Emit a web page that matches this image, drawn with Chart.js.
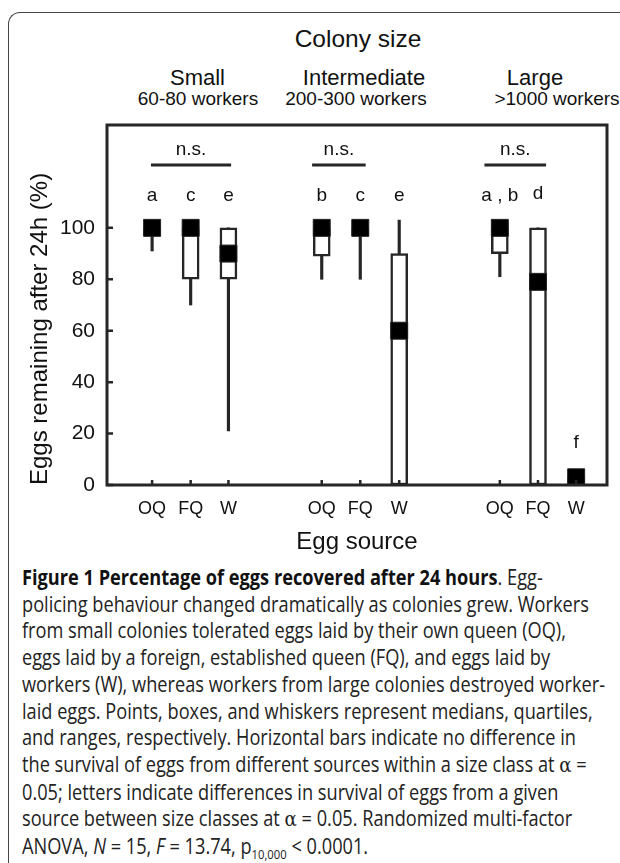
<!DOCTYPE html>
<html>
<head>
<meta charset="utf-8">
<script src="https://cdn.jsdelivr.net/npm/chart.js@4.4.1/dist/chart.umd.min.js"></script>
<style>
  html, body { margin: 0; padding: 0; background: #fff; }
  body { width: 620px; height: 863px; position: relative; overflow: hidden; font-family: "Liberation Sans", Arial, sans-serif; color: #111; }
  #frame { position: absolute; left: 8px; top: 12px; width: 640px; height: 900px; border-left: 1.3px solid #444; border-top: 1.3px solid #444; border-top-left-radius: 12px; }
  #wrap { position: absolute; left: 0; top: 0; width: 620px; height: 560px; }
  .hd { position: absolute; white-space: nowrap; line-height: 1; transform: translateX(-50%); }
  #caption { position: absolute; left: 22px; top: 564px; font-family: "Open Sans", sans-serif; font-size: 21px; line-height: 26.7px; white-space: nowrap; color: #222; transform-origin: 0 0; }
  #caption b { font-weight: 700; color: #111; }
  .al { font-family: "DejaVu Serif", serif; }
</style>
</head>
<body>
<div id="frame"></div>
<div id="heads"></div>
<div id="wrap"><canvas id="boxChart" width="620" height="560"></canvas></div>
<div id="caption">
<b>Figure 1 Percentage of eggs recovered after 24 hours</b>. Egg-<br>
policing behaviour changed dramatically as colonies grew. Workers<br>
from small colonies tolerated eggs laid by their own queen (OQ),<br>
eggs laid by a foreign, established queen (FQ), and eggs laid by<br>
workers (W), whereas workers from large colonies destroyed worker-<br>
laid eggs. Points, boxes, and whiskers represent medians, quartiles,<br>
and ranges, respectively. Horizontal bars indicate no difference in<br>
the survival of eggs from different sources within a size class at <span class="al">α</span> =<br>
0.05; letters indicate differences in survival of eggs from a given<br>
source between size classes at <span class="al">α</span> = 0.05. Randomized multi-factor<br>
ANOVA, <i>N</i> = 15, <i>F</i> = 13.74, p<sub style="font-size:13px">10,000</sub> &lt; 0.0001.
</div>
<script>
// colony size classes and egg sources
const groups = ['Small', 'Intermediate', 'Large'];
const groupSizes = ['60-80 workers', '200-300 workers', '>1000 workers'];
const sources = ['OQ', 'FQ', 'W', 'OQ', 'FQ', 'W', 'OQ', 'FQ', 'W'];
const xPos = [1.17, 2.17, 3.15, 5.57, 6.57, 7.58, 10.19, 11.18, 12.17];

// box plot values (% eggs remaining after 24h)
const mins    = [91, 70, 21, 80, 80, 0, 81, 0, 0];
const q1s     = [97, 80, 80, 89, 97, 0, 90, 0, 0];
const medians = [100, 100, 90, 100, 100, 60, 100, 79, 3];
const q3s     = [100, 100, 100, 100, 100, 90, 100, 100, 3];
const maxs    = [100, 100, 100, 100, 100, 103, 100, 100, 3];

// significance letters and "n.s." bars
const letters = ['a', 'c', 'e', 'b', 'c', 'e', 'a , b', 'd', 'f'];
const letterY = [112.4, 112.4, 112.4, 112.4, 112.4, 112.4, 112.4, 113.2, 16.3];
const nsBars = [[1.14, 3.22], [5.32, 6.71], [9.79, 11.39]];
const nsLineY = 124.4;
const nsTextY = 130.3;
const yTicks = [0, 20, 40, 60, 80, 100];

// header text (pixel layout of the figure heading)
const heads = document.getElementById('heads');
function addHead(text, cx, top, size) {
    const d = document.createElement('div');
    d.className = 'hd';
    d.textContent = text;
    d.style.left = cx + 'px';
    d.style.top = top + 'px';
    d.style.fontSize = size + 'px';
    heads.appendChild(d);
}
addHead('Colony size', 358, 26.5, 24.5);
const headX = [197.5, 364, 535];
const sizeX = [198, 356, 557];
groups.forEach((g, i) => addHead(g, headX[i], 66.5, 22));
groupSizes.forEach((g, i) => addHead(g, sizeX[i], 89, 19));

// squeeze the caption to the width of the original typesetting
const cap = document.getElementById('caption');
const capW = cap.getBoundingClientRect().width;
cap.style.transform = 'scaleX(' + (583 / capW) + ')';

const ink = '#262626';

const annotations = {
    id: 'annotations',
    afterDatasetsDraw(chart) {
        const {ctx, chartArea: a, scales: {x, y}} = chart;
        ctx.save();
        // inward tick marks
        ctx.strokeStyle = ink;
        ctx.lineWidth = 2.5;
        ctx.beginPath();
        yTicks.forEach(v => {
            const py = y.getPixelForValue(v);
            ctx.moveTo(a.left, py);
            ctx.lineTo(a.left + 6, py);
        });
        xPos.forEach(v => {
            const px = x.getPixelForValue(v);
            ctx.moveTo(px, a.bottom);
            ctx.lineTo(px, a.bottom - 5);
        });
        ctx.stroke();
        // plot frame
        ctx.lineWidth = 3;
        ctx.strokeRect(a.left, a.top, a.right - a.left, a.bottom - a.top);
        // letters
        ctx.fillStyle = '#111';
        ctx.textAlign = 'center';
        ctx.textBaseline = 'middle';
        ctx.font = '19px "Liberation Sans", Arial, sans-serif';
        letters.forEach((t, i) => {
            ctx.fillText(t, x.getPixelForValue(xPos[i]), y.getPixelForValue(letterY[i]));
        });
        nsBars.forEach(b => {
            ctx.fillText('n.s.', x.getPixelForValue((b[0] + b[1]) / 2), y.getPixelForValue(nsTextY));
        });
        ctx.restore();
    }
};

const ctx = document.getElementById('boxChart').getContext('2d');

const chart = new Chart(ctx, {
    type: 'bar',
    data: {
        datasets: [
            {
                type: 'scatter',
                data: xPos.map((v, i) => ({x: v, y: medians[i]})),
                pointStyle: 'rect',
                pointRadius: 12,
                pointBackgroundColor: '#000',
                pointBorderColor: '#222',
                pointBorderWidth: 1,
                order: 0
            },
            {
                data: xPos.map((v, i) => ({x: v, y: [q1s[i], q3s[i]]})),
                backgroundColor: '#fff',
                borderColor: ink,
                borderWidth: 2.5,
                borderSkipped: false,
                barThickness: 17,
                grouped: false,
                order: 1
            },
            {
                data: xPos.map((v, i) => ({x: v, y: [mins[i], maxs[i]]})),
                backgroundColor: ink,
                borderWidth: 0,
                barThickness: 2.5,
                grouped: false,
                order: 2
            },
            ...nsBars.map(b => ({
                type: 'line',
                data: [{x: b[0], y: nsLineY}, {x: b[1], y: nsLineY}],
                borderColor: ink,
                borderWidth: 3,
                pointRadius: 0,
                clip: false,
                order: 3
            }))
        ]
    },
    options: {
        responsive: false,
        animation: false,
        layout: { padding: { top: 125, right: 11, left: 0, bottom: 0 } },
        plugins: { legend: { display: false }, tooltip: { enabled: false } },
        scales: {
            x: {
                type: 'linear',
                offset: false,
                min: 0,
                max: 12.97,
                grid: { display: false, drawTicks: false },
                border: { display: false },
                afterBuildTicks: scale => { scale.ticks = xPos.map(v => ({value: v})); },
                afterFit: scale => { scale.height = 75; },
                ticks: {
                    autoSkip: false,
                    maxRotation: 0,
                    padding: 13,
                    color: '#111',
                    font: { family: '"Liberation Sans", Arial, sans-serif', size: 18 },
                    callback: (v, i) => sources[i]
                },
                title: {
                    display: true,
                    text: 'Egg source',
                    color: '#111',
                    font: { family: '"Liberation Sans", Arial, sans-serif', size: 24 },
                    padding: { top: 0, bottom: 3.5 }
                }
            },
            y: {
                min: 0,
                max: 140,
                grid: { display: false, drawTicks: false },
                border: { display: false },
                afterBuildTicks: scale => { scale.ticks = yTicks.map(v => ({value: v})); },
                afterFit: scale => { scale.width = 107; },
                ticks: {
                    padding: 12,
                    color: '#111',
                    font: { family: '"Liberation Sans", Arial, sans-serif', size: 21 }
                },
                title: {
                    display: true,
                    text: 'Eggs remaining after 24h (%)',
                    align: 'start',
                    color: '#111',
                    font: { family: '"Liberation Sans", Arial, sans-serif', size: 24 },
                    padding: { top: 25.6, bottom: 0 }
                }
            }
        }
    },
    plugins: [annotations]
});
</script>
</body>
</html>
